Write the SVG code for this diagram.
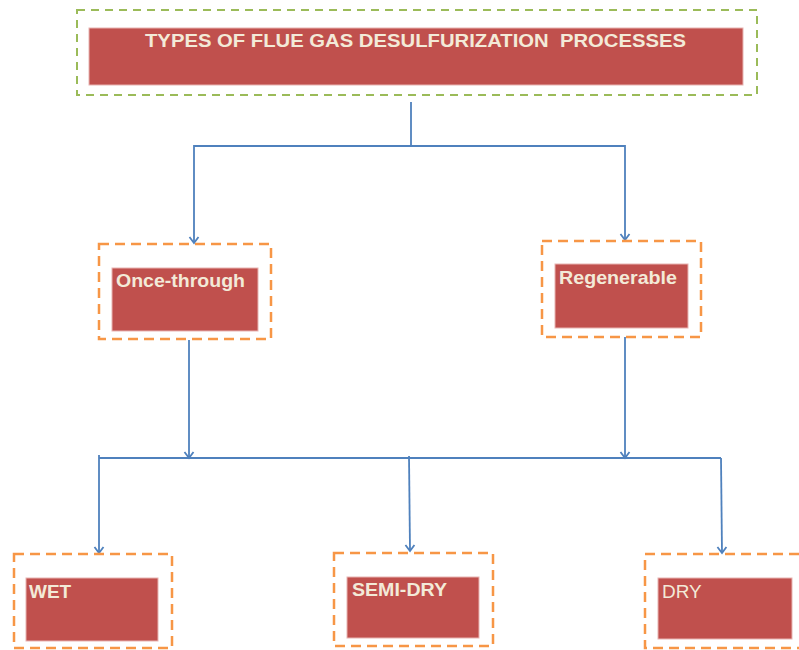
<svg xmlns="http://www.w3.org/2000/svg" width="799" height="650" viewBox="0 0 799 650">
<defs>
<marker id="arr" markerWidth="12" markerHeight="12" refX="10" refY="6" orient="auto" markerUnits="userSpaceOnUse" viewBox="0 0 12 12">
<polyline points="4,1.5 10,6 4,10.5" fill="none" stroke="#4F81BD" stroke-width="1.8"/>
</marker>
</defs>
<style>
.green{fill:none;stroke:#9BBB59;stroke-width:2;stroke-dasharray:8 6}
.orange{fill:none;stroke:#F79646;stroke-width:2.5;stroke-dasharray:10 6}
.red{fill:#C0504D;stroke:#E8B4B2;stroke-width:1}
.lbl{font-family:"Liberation Sans",Arial,sans-serif;font-size:19px;fill:#F3EAD8;font-weight:bold}
.title{font-family:"Liberation Sans Narrow","Liberation Sans",Arial,sans-serif;font-size:18px;fill:#F3EAD8;font-weight:bold}
.conn{fill:none;stroke:#4F81BD;stroke-width:1.8}
</style>
<rect width="799" height="650" fill="#FFFFFF"/>
<g id="connectors">
<polyline class="conn" points="411,102 411,146"/>
<polyline class="conn" points="411,146 194,146 194,243" marker-end="url(#arr)"/>
<polyline class="conn" points="411,146 625,146 625,240" marker-end="url(#arr)"/>
<line class="conn" x1="189" y1="340" x2="189" y2="458" marker-end="url(#arr)"/>
<line class="conn" x1="625" y1="337" x2="625" y2="458" marker-end="url(#arr)"/>
<line class="conn" x1="99" y1="458" x2="721" y2="458"/>
<polyline class="conn" points="99,455 99,553" marker-end="url(#arr)"/>
<polyline class="conn" points="409,456 410,551" marker-end="url(#arr)"/>
<polyline class="conn" points="721,458 722,553" marker-end="url(#arr)"/>
</g>
<g id="title">
<rect class="green" x="77" y="10" width="680" height="85"/>
<rect class="red" x="89" y="28" width="654" height="57"/>
<text class="title" x="145" y="47" textLength="541" lengthAdjust="spacingAndGlyphs" xml:space="preserve">TYPES OF FLUE GAS DESULFURIZATION  PROCESSES</text>
</g>
<g id="once-through">
<rect class="orange" x="99" y="244" width="172" height="95"/>
<rect class="red" x="112" y="268" width="146" height="63"/>
<text class="lbl" x="116" y="287" textLength="129" lengthAdjust="spacingAndGlyphs">Once-through</text>
</g>
<g id="regenerable">
<rect class="orange" x="542" y="241" width="159" height="96"/>
<rect class="red" x="555" y="264" width="133" height="64"/>
<text class="lbl" x="559" y="284" textLength="118" lengthAdjust="spacingAndGlyphs">Regenerable</text>
</g>
<g id="wet">
<rect class="orange" x="14" y="554" width="158" height="94"/>
<rect class="red" x="26" y="578" width="132" height="63"/>
<text class="lbl" x="29" y="598">WET</text>
</g>
<g id="semi-dry">
<rect class="orange" x="334" y="553" width="159" height="93"/>
<rect class="red" x="347" y="577" width="132" height="61"/>
<text class="lbl" x="352" y="596" textLength="95" lengthAdjust="spacingAndGlyphs">SEMI-DRY</text>
</g>
<g id="dry">
<rect class="orange" x="645" y="554" width="170" height="94"/>
<rect class="red" x="658" y="578" width="134" height="61"/>
<text class="lbl" x="662" y="598" style="font-weight:normal">DRY</text>
</g>
</svg>
